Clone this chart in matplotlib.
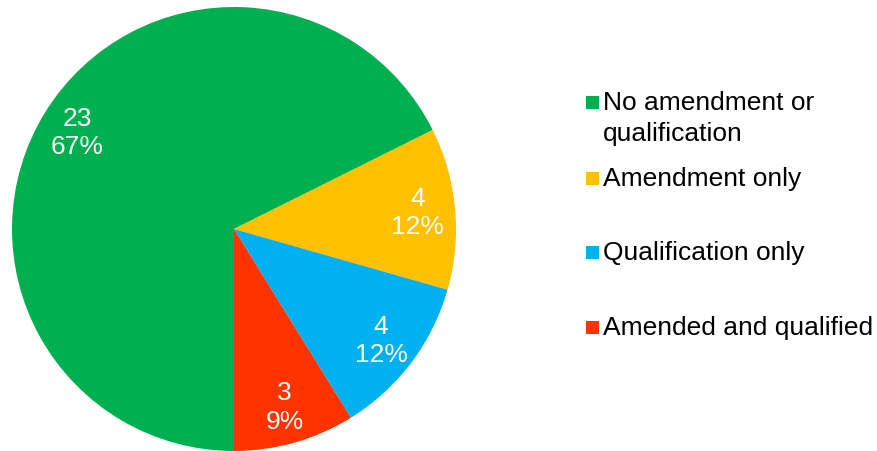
import matplotlib
matplotlib.use('Agg')
import matplotlib.pyplot as plt
from matplotlib.patches import Rectangle

categories = ['No amendment or\nqualification', 'Amendment only',
              'Qualification only', 'Amended and qualified']
counts = [23, 4, 4, 3]
pct_labels = ['67%', '12%', '12%', '9%']
colors = ['#00B050', '#FFC000', '#00B0F0', '#FF3300']

plt.rcParams['font.family'] = ['Liberation Sans', 'DejaVu Sans']

W, H = 878, 452
fig = plt.figure(figsize=(W / 100, H / 100), dpi=100)
ax = fig.add_axes([12 / W, 0, 444 / W, 444 / H])

label_iter = iter(range(len(counts)))

def fmt(pct):
  i = next(label_iter)
  return '%d\n%s' % (counts[i], pct_labels[i])

wedges, texts, autotexts = ax.pie(counts, colors=colors, startangle=-90,
  counterclock=False, autopct=fmt, pctdistance=0.83,
  wedgeprops=dict(linewidth=0),
  textprops=dict(color='white', fontsize=19, linespacing=1.25))
ax.set_xlim(-1, 1)
ax.set_ylim(-1, 1)
ax.set_aspect('equal')
ax.axis('off')

# legend, laid out by hand to follow the original spacing
legend_rows = [103.5, 179.5, 253.5, 328.5]
for cat, col, yc in zip(categories, colors, legend_rows):
  fig.patches.append(Rectangle((586 / W, 1 - (yc + 6.5) / H), 13 / W, 13 / H,
    transform=fig.transFigure, facecolor=col, edgecolor='none'))
  lines = cat.split('\n')
  for k, line in enumerate(lines):
    fig.text(603 / W, 1 - (yc + 30 * k) / H, line, fontsize=19,
      va='center', ha='left', color='black')

plt.savefig('out.png', dpi=100)
